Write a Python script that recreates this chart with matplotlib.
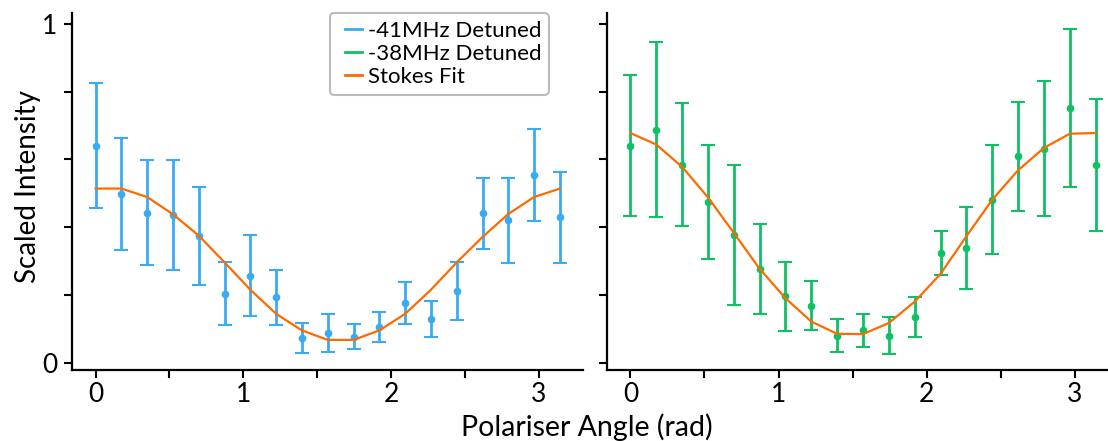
import numpy as np
import matplotlib
matplotlib.use("Agg")
import matplotlib.pyplot as plt
from matplotlib.lines import Line2D
from matplotlib.legend_handler import HandlerLine2D

plt.rcParams['font.family'] = ['Lato', 'DejaVu Sans']

# ---- data ----
angles = [i * np.pi / 18 for i in range(19)]  # 0..pi in 10 degree steps

blue_y = [0.641, 0.498, 0.443, 0.435, 0.374, 0.203, 0.257, 0.193, 0.073, 0.087,
          0.077, 0.105, 0.176, 0.130, 0.211, 0.441, 0.420, 0.555, 0.429]
blue_err = [0.185, 0.165, 0.155, 0.163, 0.145, 0.093, 0.120, 0.081, 0.045, 0.057,
            0.036, 0.043, 0.061, 0.053, 0.085, 0.105, 0.125, 0.136, 0.134]
blue_fit = [0.514, 0.514, 0.489, 0.438, 0.375, 0.296, 0.215, 0.144, 0.095, 0.067,
            0.067, 0.095, 0.144, 0.215, 0.296, 0.371, 0.439, 0.489, 0.514]

green_y = [0.641, 0.688, 0.584, 0.475, 0.378, 0.277, 0.196, 0.168, 0.080, 0.095,
           0.080, 0.135, 0.324, 0.338, 0.481, 0.609, 0.632, 0.751, 0.584]
green_err = [0.207, 0.258, 0.182, 0.168, 0.207, 0.133, 0.102, 0.073, 0.050, 0.049,
             0.054, 0.058, 0.064, 0.122, 0.161, 0.161, 0.200, 0.233, 0.195]
green_fit = [0.678, 0.644, 0.578, 0.488, 0.383, 0.277, 0.190, 0.121, 0.085, 0.084,
             0.117, 0.180, 0.262, 0.373, 0.481, 0.568, 0.634, 0.676, 0.678]

labels = ['-41MHz Detuned', '-38MHz Detuned', 'Stokes Fit']
xticks = [0, 0.5, 1, 1.5, 2, 2.5, 3]
xticklabels = ['0', '', '1', '', '2', '', '3']
yticks = [0, 0.2, 0.4, 0.6, 0.8, 1.0]
yticklabels = ['0', '', '', '', '', '1']

blue = '#3aabf2'
green = '#0fc065'
orange = '#ff6a00'

fig = plt.figure(figsize=(11.08, 4.41), dpi=100)
ax1 = fig.add_axes([0.0653, 0.161, 0.461, 0.809])
ax2 = fig.add_axes([0.548, 0.161, 0.4618, 0.809], sharey=ax1)

for ax, y, err, fit, col in [(ax1, blue_y, blue_err, blue_fit, blue),
                              (ax2, green_y, green_err, green_fit, green)]:
    ax.errorbar(angles, y, yerr=err, fmt='o', color=col, ms=4.5, elinewidth=2,
                capsize=4.7, capthick=1.5, zorder=2)
    ax.plot(angles, fit, color=orange, lw=1.6, zorder=3)
    for s in ['top', 'right']:
        ax.spines[s].set_visible(False)
    for s in ['left', 'bottom']:
        ax.spines[s].set_linewidth(1.6)
    ax.set_xticks(xticks)
    ax.set_xticklabels(xticklabels)
    ax.tick_params(width=1.5, length=6, labelsize=19)
    ax.tick_params(axis='x', pad=3)
    ax.tick_params(axis='y', pad=5)

ax1.set_yticks(yticks)
ax1.set_yticklabels(yticklabels)
ax2.tick_params(axis='y', labelleft=False)
ax1.set_xlim(-np.pi * 0.05, np.pi * 1.05)
ax2.set_xlim(-np.pi * 0.05, np.pi * 1.05)

handles = [Line2D([], [], color=blue, lw=2),
           Line2D([], [], color=green, lw=2),
           Line2D([], [], color=orange, lw=2)]
leg = ax1.legend(handles, labels, loc='upper right', bbox_to_anchor=(0.933, 1.0),
                 borderaxespad=0, fontsize=16, handlelength=1.13, handletextpad=0.27,
                 labelspacing=0.15, borderpad=0.33, fancybox=True, framealpha=1,
                 handler_map={Line2D: HandlerLine2D(xpad=0.36)})
leg.get_frame().set_edgecolor('#bbbbbb')
leg.get_frame().set_linewidth(1.5)

fig.text(0.0253, 0.577, 'Scaled Intensity', rotation=90, ha='center', va='center', fontsize=20)
fig.text(0.5298, 0.012, 'Polariser Angle (rad)', ha='center', va='baseline', fontsize=20.5)

fig.savefig('out.png', dpi=100)
